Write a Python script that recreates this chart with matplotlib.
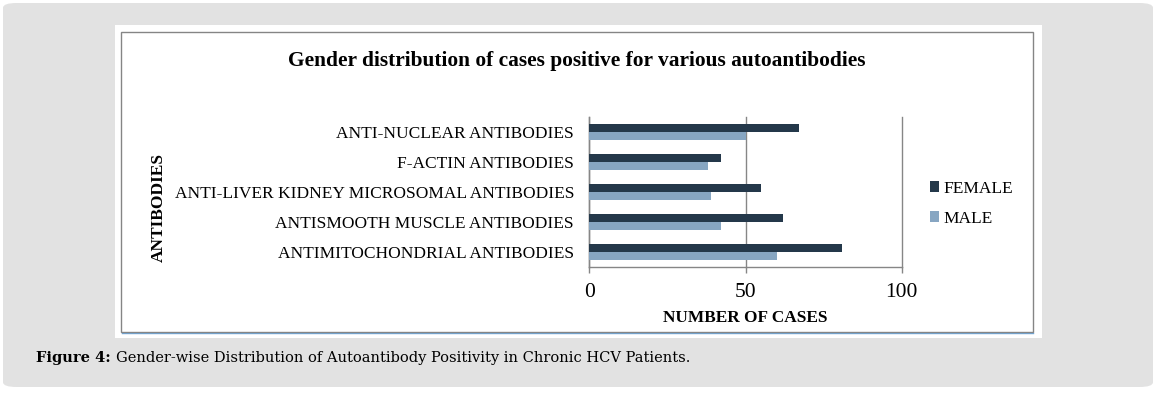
import matplotlib.pyplot as plt
import numpy as np
from matplotlib.patches import FancyBboxPatch, Rectangle
from matplotlib.lines import Line2D

# Data (bottom to top, as drawn)
categories = ['ANTIMITOCHONDRIAL ANTIBODIES',
              'ANTISMOOTH MUSCLE ANTIBODIES',
              'ANTI-LIVER KIDNEY MICROSOMAL ANTIBODIES',
              'F-ACTIN ANTIBODIES',
              'ANTI-NUCLEAR ANTIBODIES']
female = [81, 62, 55, 42, 67]
male = [60, 42, 39, 38, 50]
x_ticks = [0, 50, 100]

female_color = '#24384a'
male_color = '#87a6c2'
grid_color = '#868686'
serif = ['Liberation Serif', 'DejaVu Serif']

W, H = 1157, 394
fig = plt.figure(figsize=(W / 100, H / 100), dpi=100)
fig.patch.set_facecolor('white')

def fx(px):
    return px / W

def fy(py):
    return 1 - py / H

# outer gray rounded card
fig.patches.append(FancyBboxPatch((fx(3), fy(387)), fx(1150), 384 / H,
                                  boxstyle='round,pad=0,rounding_size=0.012',
                                  transform=fig.transFigure, facecolor='#e2e2e2',
                                  edgecolor='none', zorder=0))
# white panel
fig.patches.append(Rectangle((fx(115), fy(337.7)), fx(926.7), 312.7 / H,
                             transform=fig.transFigure, facecolor='white',
                             edgecolor='none', zorder=1))
# blue underline and gray chart border
fig.lines.append(Line2D([fx(122), fx(1033)], [fy(332.6), fy(332.6)],
                        transform=fig.transFigure, color='#6fa8dc', lw=1.0, zorder=2))
fig.patches.append(Rectangle((fx(121), fy(331.5)), fx(911.7), 299.5 / H,
                             transform=fig.transFigure, facecolor='none',
                             edgecolor='#858585', lw=1.0, zorder=3))

ax = fig.add_axes([fx(589.3), fy(266.7), fx(312.4), 149.7 / H])
ax.set_zorder(5)
ax.patch.set_alpha(0)

y = np.arange(len(categories))
h = 0.27
ax.barh(y + h / 2, female, height=h, color=female_color, label='FEMALE', zorder=3)
ax.barh(y - h / 2, male, height=h, color=male_color, label='MALE', zorder=3)

ax.set_xlim(0, 100)
ax.set_ylim(-0.5, len(categories) - 0.5)
ax.set_xticks(x_ticks)
ax.set_xticklabels([str(t) for t in x_ticks], family=serif, fontsize=15.5)
ax.set_yticks(y)
ax.set_yticklabels(categories, family=serif, fontsize=12.5)
ax.tick_params(axis='y', length=0, pad=11)
ax.tick_params(axis='x', length=4, width=1.0, color=grid_color, pad=8, direction='out')
ax.xaxis.grid(True, color=grid_color, lw=1.0, zorder=1)
for gl in ax.get_xgridlines():
    gl.set_clip_on(False)
ax.set_axisbelow(True)
for s in ['top', 'right']:
    ax.spines[s].set_visible(False)
for s in ['left', 'bottom']:
    ax.spines[s].set_color(grid_color)
    ax.spines[s].set_linewidth(1.0)

fig.text(fx(577), fy(61), 'Gender distribution of cases positive for various autoantibodies',
         ha='center', va='center', family=serif, fontweight='bold', fontsize=15.4, zorder=6)
fig.text(fx(745), fy(318), 'NUMBER OF CASES', ha='center', va='center',
         family=serif, fontweight='bold', fontsize=12.4, zorder=6)
fig.text(fx(159), fy(208), 'ANTIBODIES', ha='center', va='center', rotation=90,
         family=serif, fontweight='bold', fontsize=12.5, zorder=6)

ax.legend(loc='upper left', bbox_to_anchor=(fx(921), fy(172)), bbox_transform=fig.transFigure,
          frameon=False, prop={'family': serif, 'size': 12.5}, handlelength=0.55,
          handleheight=0.55, handletextpad=0.25, labelspacing=0.8, borderpad=0)

# caption: bold label followed by regular text
cap_font = ['DejaVu Serif']
t1 = fig.text(fx(36), fy(358), 'Figure 4:', ha='left', va='center', family=cap_font,
              fontweight='bold', fontsize=10.5, zorder=6)
fig.canvas.draw()
bb = t1.get_window_extent()
fig.text(fx(bb.x1 + 5), fy(358), 'Gender-wise Distribution of Autoantibody Positivity in Chronic HCV Patients.',
         ha='left', va='center', family=cap_font, fontsize=10.5, zorder=6)

fig.savefig('out.png', dpi=100, facecolor='white')
